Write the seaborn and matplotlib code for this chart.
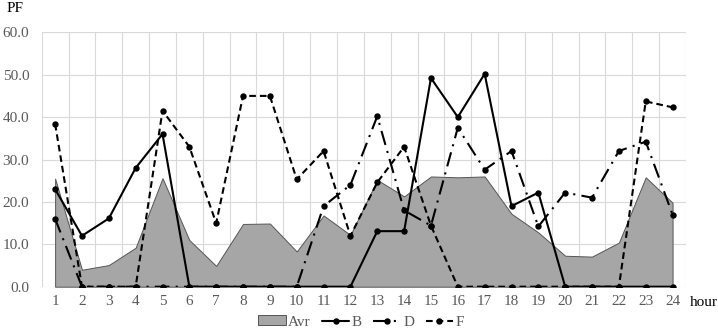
import matplotlib
matplotlib.use("Agg")
import matplotlib.pyplot as plt
import seaborn as sns
import pandas as pd
from matplotlib.patches import Patch
from matplotlib.lines import Line2D

hours = list(range(1, 25))
avr = [25.5, 4.0, 5.1, 9.2, 25.6, 11.0, 4.9, 14.8, 14.9, 8.3, 16.8, 12.2,
       25.2, 21.3, 26.0, 25.8, 26.0, 17.2, 12.8, 7.3, 7.1, 10.4, 25.8, 19.8]
B = [23.0, 12.0, 16.1, 28.0, 36.0, 0, 0, 0, 0, 0, 0, 0,
     13.1, 13.1, 49.2, 40.0, 50.2, 19.0, 22.2, 0, 0, 0, 0, 0]
D = [16.0, 0, 0, 0, 0, 0, 0, 0, 0, 0, 19.0, 24.0,
     40.2, 18.0, 14.4, 37.5, 27.6, 32.0, 14.2, 22.2, 21.0, 32.0, 34.2, 17.0]
F = [38.4, 0, 0, 0, 41.5, 33.0, 15.0, 45.0, 45.0, 25.3, 32.0, 12.0,
     24.6, 33.0, 14.4, 0, 0, 0, 0, 0, 0, 0, 43.7, 42.3]
series_names = ["B", "D", "F"]
series_dashes = {"B": "", "D": (7, 3, 1, 3), "F": (3.2, 1.9)}
yticks = [0, 10, 20, 30, 40, 50, 60]

sns.set_theme(style="whitegrid")
plt.rcParams["font.family"] = ["Liberation Serif", "DejaVu Serif"]

FS = 11
LW = 1.5
MS = 4.6

df = pd.DataFrame({"hour": hours, "Avr": avr, "B": B, "D": D, "F": F})
long = df.melt(id_vars="hour", value_vars=series_names, var_name="series", value_name="PF")

fig = plt.figure(figsize=(7.18, 3.33), dpi=100)
ax = fig.add_axes([41.7 / 718, 1 - 286.7 / 333, (686 - 41.7) / 718, (286.7 - 32.3) / 333])

ax.fill_between(df["hour"], 0, df["Avr"], facecolor="#a6a6a6", edgecolor="#555555",
                linewidth=0.7, zorder=2)

sns.lineplot(data=long, x="hour", y="PF", style="series", dashes=series_dashes,
             markers={"B": "o", "D": "o", "F": "o"}, color="black", linewidth=LW,
             markersize=MS, markeredgewidth=0, ax=ax, legend=False, zorder=3)

ax.set_xlim(0.5, 24.5)
ax.set_ylim(0, 60)
ax.set_xticks(hours)
ax.set_xticklabels([str(h) for h in hours])
ax.set_yticks(yticks)
ax.set_yticklabels([f"{v:.1f}" for v in yticks])
ax.set_xticks([h + 0.5 for h in range(0, 25)], minor=True)
ax.grid(False)
ax.grid(True, which="minor", axis="x", color="#d9d9d9", linewidth=0.8)
ax.grid(True, which="major", axis="y", color="#d9d9d9", linewidth=0.8)
ax.set_axisbelow(True)
for s in ax.spines.values():
    s.set_visible(False)
ax.tick_params(axis="both", which="both", length=0, labelsize=FS, labelcolor="#595959")
ax.tick_params(axis="x", pad=6)
ax.tick_params(axis="y", pad=9)
ax.set_xlabel("")
ax.set_ylabel("")

fig.text(15 / 718, 1 - 9 / 333, "PF", ha="center", va="center", fontsize=FS, color="black")
fig.text(690 / 718, 1 - 302 / 333, "hour", ha="left", va="center", fontsize=FS, color="black")

handles = [Patch(facecolor="#a6a6a6", edgecolor="#555555", linewidth=0.7)]
for name in series_names:
    d = series_dashes[name]
    handles.append(Line2D([0], [0], color="black", linewidth=LW, marker="o", markersize=MS,
                          markeredgewidth=0,
                          linestyle="-" if d == "" else (0, d)))
labels = ["Avr"] + series_names
leg = fig.legend(handles, labels, loc="center", bbox_to_anchor=(361 / 718, 1 - 322 / 333),
                 ncol=4, frameon=False, fontsize=FS, handlelength=1.8, handleheight=0.55,
                 handletextpad=0.15, columnspacing=0.75, borderaxespad=0)
for t in leg.get_texts():
    t.set_color("#595959")

fig.savefig("out.png", dpi=100)
